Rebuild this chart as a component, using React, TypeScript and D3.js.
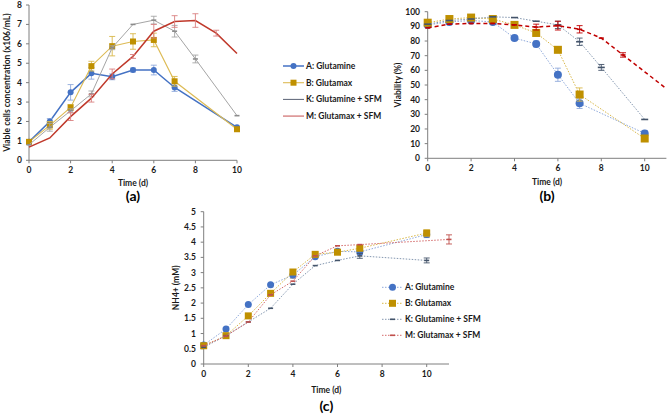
import React from "react";
import * as d3 from "d3";

// ---------- DATA ----------
const seriesNames = ["A: Glutamine", "B: Glutamax", "K: Glutamine + SFM", "M: Glutamax + SFM"];

// Panel (a): viable cells (x10^6/mL)
const aDaysA = [0, 1, 2, 3, 4, 5, 6, 7, 10];
const aGlutamine = [0.95, 2.0, 3.5, 4.48, 4.3, 4.65, 4.65, 3.75, 1.7];
const aGlutamineErr = [0.05, 0.15, 0.4, 0.3, 0.15, 0.1, 0.25, 0.2, 0.05];
const aGlutamax = [0.95, 1.8, 2.72, 4.85, 5.88, 6.12, 6.2, 4.07, 1.6];
const aGlutamaxErr = [0.05, 0.2, 0.15, 0.25, 0.5, 0.4, 0.35, 0.25, 0.05];
const aDaysK = [0, 1, 2, 3, 4, 5, 6, 7, 8, 10];
const aGlutamineSFM = [0.8, 1.7, 2.55, 3.42, 5.8, 7.0, 7.22, 6.65, 5.22, 2.3];
const aGlutamineSFMErr = [0.05, 0.2, 0.1, 0.15, 0.1, 0.05, 0.2, 0.3, 0.2, 0.05];
const aDaysM = [0, 1, 2, 3, 4, 5, 6, 7, 8, 9, 10];
const aGlutamaxSFM = [0.68, 1.15, 2.25, 3.2, 4.45, 5.35, 6.65, 7.15, 7.2, 6.55, 5.5];
const aGlutamaxSFMErr = [0.03, 0.05, 0.2, 0.2, 0.25, 0.1, 0.35, 0.3, 0.35, 0.15, 0];
const aYTicks = [0, 1, 2, 3, 4, 5, 6, 7, 8];

// Panel (b): viability (%)
const bDaysA = [0, 1, 2, 3, 4, 5, 6, 7, 10];
const bGlutamine = [91, 93, 94, 93, 82, 78, 57, 37.5, 17];
const bGlutamineErr = [1, 1, 1, 1, 1, 2, 4.5, 3.5, 2];
const bGlutamax = [92.5, 95, 96, 95, 91, 85.5, 74, 43.5, 13.5];
const bGlutamaxErr = [1, 1, 1, 1, 1, 1.5, 1, 4.5, 1];
const bDaysK = [0, 1, 2, 3, 4, 5, 6, 7, 8, 10];
const bGlutamineSFM = [91.5, 94, 95, 96.5, 96, 93.5, 91, 79.5, 62, 26.5];
const bGlutamineSFMErr = [0.5, 0.5, 0.5, 0.5, 0.5, 0.5, 2.5, 2.5, 2, 0.5];
const bDaysM = [0, 1, 2, 3, 4, 5, 6, 7, 8, 9, 10, 11];
const bGlutamaxSFM = [89, 91.5, 92, 92, 91, 89.5, 90.5, 88, 82, 70.5, 59, 47.5];
const bGlutamaxSFMErr = [0.5, 1, 1, 0.5, 0.5, 2, 3, 2.5, 1, 1.5, 0, 0];
const bYTicks = [0, 10, 20, 30, 40, 50, 60, 70, 80, 90, 100];

// Panel (c): NH4+ (mM)
const cDaysA = [0, 1, 2, 3, 4, 5, 6, 7, 10];
const cGlutamine = [0.62, 1.15, 1.95, 2.6, 2.92, 3.52, 3.7, 3.68, 4.25];
const cGlutamineErr = [0.03, 0.03, 0.03, 0.03, 0.1, 0.05, 0.05, 0.08, 0.1];
const cGlutamax = [0.6, 0.93, 1.58, 2.32, 3.02, 3.6, 3.67, 3.8, 4.3];
const cGlutamaxErr = [0.03, 0.03, 0.05, 0.05, 0.05, 0.05, 0.05, 0.05, 0.1];
const cDaysK = [0, 1, 2, 3, 4, 5, 6, 7, 10];
const cGlutamineSFM = [0.55, 0.93, 1.38, 1.83, 2.62, 3.23, 3.4, 3.55, 3.4];
const cGlutamineSFMErr = [0.02, 0.02, 0.02, 0.02, 0.04, 0.03, 0.03, 0.08, 0.08];
const cDaysM = [0, 1, 2, 3, 4, 5, 6, 7, 11];
const cGlutamaxSFM = [0.6, 0.92, 1.38, 2.27, 2.72, 3.55, 3.88, 3.92, 4.09];
const cGlutamaxSFMErr = [0.02, 0.02, 0.02, 0.03, 0.05, 0.03, 0.03, 0.03, 0.15];
const cYTicks = [0, 0.5, 1, 1.5, 2, 2.5, 3, 3.5, 4, 4.5, 5];

const xTicks = [0, 2, 4, 6, 8, 10];

// ---------- STYLE ----------
const FONT = "Lato, 'Open Sans', sans-serif";
const TXT = "#1a1a1a";
const BLUE = "#4472C4";
const GOLD = "#BF9000";
const GRAY = "#8C8C8C";
const SLATE = "#44546A";
const RED = "#C0392B";

type Marker = "circle" | "square" | "dash" | "none";
interface Series {
  days: number[];
  values: number[];
  errs: number[];
  color: string;
  lineColor: string;
  width: number;
  dash?: string;
  marker: Marker;
  size: number;
  errColor: string;
}

interface PanelProps {
  x0: number; x1: number; xMax: number;
  y0: number; y1: number; yMax: number;
  yTicks: number[];
  yFmt: (v: number) => string;
  series: Series[];
  yLabel: string;
  yLabelX: number;
  tickRight: number;
  titleY: number;
  letter: string;
  letterY: number;
}

function MarkerShape({ m, x, y, size, color }: { m: Marker; x: number; y: number; size: number; color: string }) {
  if (m === "circle") return <circle cx={x} cy={y} r={size / 2} fill={color} />;
  if (m === "square") return <rect x={x - size / 2} y={y - size / 2} width={size} height={size} fill={color} />;
  if (m === "dash") return <line x1={x - size / 2} x2={x + size / 2} y1={y} y2={y} stroke={color} strokeWidth={1.6} />;
  return null;
}

function Panel(p: PanelProps) {
  const xs = d3.scaleLinear().domain([0, p.xMax]).range([p.x0, p.x1]);
  const ys = d3.scaleLinear().domain([0, p.yMax]).range([p.y0, p.y1]);
  const line = d3.line<[number, number]>().x((d) => xs(d[0])).y((d) => ys(d[1]));
  const cx = (p.x0 + p.x1) / 2;
  return (
    <g fontFamily={FONT} fontWeight="bold">
      <line x1={p.x0} x2={p.x0} y1={p.y0} y2={p.y1} stroke="#7f7f7f" strokeWidth={1} />
      <line x1={p.x0} x2={p.x1} y1={p.y0} y2={p.y0} stroke="#7f7f7f" strokeWidth={1} />
      {p.yTicks.map((t) => (
        <g key={"y" + t}>
          <line x1={p.x0 - 3} x2={p.x0} y1={ys(t)} y2={ys(t)} stroke="#7f7f7f" />
          <text x={p.tickRight} y={ys(t) + 3} fontSize={8.5} textAnchor="end" fill={TXT}>
            {p.yFmt(t)}
          </text>
        </g>
      ))}
      {xTicks.map((t) => (
        <g key={"x" + t}>
          <line x1={xs(t)} x2={xs(t)} y1={p.y0} y2={p.y0 + 3} stroke="#7f7f7f" />
          <text x={xs(t)} y={p.y0 + 13} fontSize={8.5} textAnchor="middle" fill={TXT}>
            {t}
          </text>
        </g>
      ))}
      <text x={cx} y={p.titleY} fontSize={8.5} textAnchor="middle" fill={TXT}>Time (d)</text>
      <text x={cx} y={p.letterY} fontSize={14} textAnchor="middle" fill="#000">{p.letter}</text>
      <text
        transform={`translate(${p.yLabelX},${(p.y0 + p.y1) / 2}) rotate(-90)`}
        fontSize={8.5}
        textAnchor="middle"
        fill={TXT}
      >
        {p.yLabel}
      </text>
      {p.series.map((s, i) => {
        const pts = s.days.map((d, j) => [d, s.values[j]] as [number, number]);
        return (
          <g key={i}>
            <path d={line(pts) || ""} fill="none" stroke={s.lineColor} strokeWidth={s.width} strokeDasharray={s.dash} />
            {pts.map((pt, j) =>
              s.errs[j] > 0.01 * p.yMax ? (
                <g key={"e" + j} stroke={s.errColor} strokeWidth={0.9}>
                  <line x1={xs(pt[0])} x2={xs(pt[0])} y1={ys(pt[1] - s.errs[j])} y2={ys(pt[1] + s.errs[j])} />
                  <line x1={xs(pt[0]) - 3} x2={xs(pt[0]) + 3} y1={ys(pt[1] - s.errs[j])} y2={ys(pt[1] - s.errs[j])} />
                  <line x1={xs(pt[0]) - 3} x2={xs(pt[0]) + 3} y1={ys(pt[1] + s.errs[j])} y2={ys(pt[1] + s.errs[j])} />
                </g>
              ) : null
            )}
            {pts.map((pt, j) =>
              s.marker === "dash" && s.errs[j] === 0 ? null : (
                <MarkerShape key={"m" + j} m={s.marker} x={xs(pt[0])} y={ys(pt[1])} size={s.size} color={s.color} />
              )
            )}
          </g>
        );
      })}
    </g>
  );
}

function Legend({ x, y, gap, series, dotted }: { x: number; y: number; gap: number; series: Series[]; dotted: boolean }) {
  return (
    <g fontFamily={FONT} fontWeight="bold">
      {series.map((s, i) => {
        const yy = y + i * gap;
        return (
          <g key={i}>
            <line x1={x} x2={x + 21} y1={yy} y2={yy} stroke={s.lineColor} strokeWidth={dotted ? 1 : s.width} strokeDasharray={dotted ? "1.5,1.5" : undefined} />
            <MarkerShape m={s.marker} x={x + 10.5} y={yy} size={s.size} color={s.color} />
            <text x={x + 23} y={yy + 3} fontSize={8.5} fill={TXT}>{seriesNames[i]}</text>
          </g>
        );
      })}
    </g>
  );
}

export default function App() {
  const seriesA: Series[] = [
    { days: aDaysA, values: aGlutamine, errs: aGlutamineErr, color: BLUE, lineColor: BLUE, width: 1.5, marker: "circle", size: 6, errColor: "#8EA9DB" },
    { days: aDaysA, values: aGlutamax, errs: aGlutamaxErr, color: GOLD, lineColor: "#DDBB55", width: 1.1, marker: "square", size: 6, errColor: "#D9B84A" },
    { days: aDaysK, values: aGlutamineSFM, errs: aGlutamineSFMErr, color: GRAY, lineColor: "#A5A5A5", width: 1, marker: "dash", size: 5, errColor: "#A5A5A5" },
    { days: aDaysM, values: aGlutamaxSFM, errs: aGlutamaxSFMErr, color: RED, lineColor: RED, width: 1.5, marker: "none", size: 0, errColor: "#D98080" },
  ];
  const legendA: Series[] = [
    seriesA[0], seriesA[1],
    { ...seriesA[2], lineColor: "#5A6275", marker: "none" },
    { ...seriesA[3], lineColor: "#D98A8A" },
  ];
  const seriesB: Series[] = [
    { days: bDaysA, values: bGlutamine, errs: bGlutamineErr, color: BLUE, lineColor: "#8EA9DB", width: 1, dash: "1.5,1.5", marker: "circle", size: 8, errColor: "#8EA9DB" },
    { days: bDaysA, values: bGlutamax, errs: bGlutamaxErr, color: GOLD, lineColor: "#D9B84A", width: 1, dash: "1.5,1.5", marker: "square", size: 8, errColor: "#D9B84A" },
    { days: bDaysK, values: bGlutamineSFM, errs: bGlutamineSFMErr, color: SLATE, lineColor: "#8497B0", width: 1, dash: "1.5,1.5", marker: "dash", size: 7, errColor: SLATE },
    { days: bDaysM, values: bGlutamaxSFM, errs: bGlutamaxSFMErr, color: "#C00000", lineColor: "#C00000", width: 1.5, dash: "4,3", marker: "dash", size: 5, errColor: "#C00000" },
  ];
  const seriesC: Series[] = [
    { days: cDaysA, values: cGlutamine, errs: cGlutamineErr, color: BLUE, lineColor: "#8EA9DB", width: 1, dash: "1.5,1.5", marker: "circle", size: 7, errColor: "#7F7F7F" },
    { days: cDaysA, values: cGlutamax, errs: cGlutamaxErr, color: GOLD, lineColor: "#D9B84A", width: 1, dash: "1.5,1.5", marker: "square", size: 7, errColor: "#D9B84A" },
    { days: cDaysK, values: cGlutamineSFM, errs: cGlutamineSFMErr, color: SLATE, lineColor: "#8497B0", width: 1, dash: "1.5,1.5", marker: "dash", size: 5, errColor: SLATE },
    { days: cDaysM, values: cGlutamaxSFM, errs: cGlutamaxSFMErr, color: "#C0504D", lineColor: "#D46A6A", width: 1, dash: "1.5,1.5", marker: "dash", size: 5, errColor: "#C0504D" },
  ];

  return (
    <svg width={669} height={414} style={{ position: "absolute", left: 0, top: 0, background: "#fff" }}>
      <rect width={669} height={414} fill="#fff" />
      <Panel
        x0={29} x1={237} xMax={10} y0={160.3} y1={5} yMax={8}
        yTicks={aYTicks} yFmt={(v) => String(v)} series={seriesA}
        yLabel="Viable cells concentration (x106/mL)" yLabelX={10} tickRight={22}
        titleY={186} letter="(a)" letterY={201}
      />
      <Legend x={283} y={66} gap={16.7} series={legendA} dotted={false} />
      <Panel
        x0={427.7} x1={666.4} xMax={11} y0={158.3} y1={11.7} yMax={100}
        yTicks={bYTicks} yFmt={(v) => String(v)} series={seriesB}
        yLabel="Viability (%)" yLabelX={401} tickRight={420}
        titleY={185} letter="(b)" letterY={201}
      />
      <Panel
        x0={203.7} x1={449} xMax={11} y0={364} y1={211.7} yMax={5}
        yTicks={cYTicks} yFmt={(v) => String(v)} series={seriesC}
        yLabel="NH4+ (mM)" yLabelX={179} tickRight={196}
        titleY={393} letter="(c)" letterY={411}
      />
      <Legend x={382} y={287.3} gap={16} series={seriesC} dotted={true} />
    </svg>
  );
}
